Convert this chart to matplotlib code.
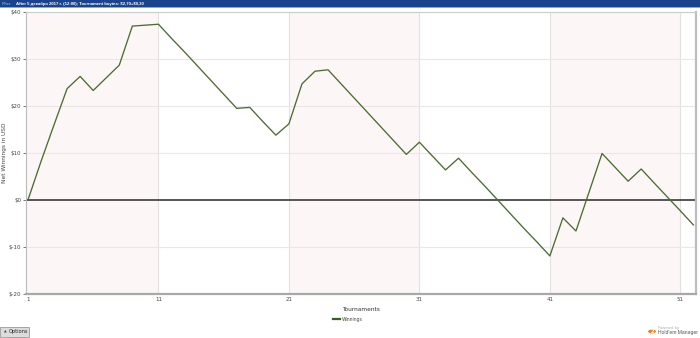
import matplotlib
matplotlib.use("Agg")
import matplotlib.pyplot as plt
from matplotlib.patches import Rectangle, Circle
from matplotlib.lines import Line2D

tournaments = list(range(1, 53))
winnings = [0.0, 8.2, 16.0, 23.7, 26.3, 23.3, 26.0, 28.7, 37.0, 37.2,
            37.4, 34.4, 31.5, 28.5, 25.5, 22.5, 19.5, 19.7, 16.7, 13.8,
            16.2, 24.7, 27.4, 27.7, 24.7, 21.7, 18.7, 15.7, 12.7, 9.7,
            12.3, 9.35, 6.4, 8.9, 5.9, 3.0, 0.0, -3.0, -6.0, -8.9,
            -11.9, -3.8, -6.6, 1.65, 9.9, 6.95, 4.0, 6.6, 3.6, 0.65,
            -2.3, -5.3]
x_ticks = [1, 11, 21, 31, 41, 51]
y_ticks = [-20, -10, 0, 10, 20, 30, 40]
y_tick_labels = ["$-20", "$-10", "$0", "$10", "$20", "$30", "$40"]
band_starts = [1, 21, 41]
header_text = "After 5 декабря 2017 г. (12:00); Tournament buyins: \\$2,70+\\$0,30"

W, H = 700, 338
fig = plt.figure(figsize=(W / 100, H / 100), dpi=100)
fig.patch.set_facecolor("white")

def fy(py):
    return 1 - py / H

# header bar
fig.patches.append(Rectangle((0, fy(7)), 1, 7 / H, transform=fig.transFigure,
                             facecolor="#1b428c", edgecolor="none"))
fig.patches.append(Rectangle((0, fy(8)), 1, 1 / H, transform=fig.transFigure,
                             facecolor="#8fa6d2", edgecolor="none"))
fig.text(2 / W, fy(3.6), "Filter:", color="#a9b8d8", fontsize=3.1,
         va="center", ha="left", family="Liberation Sans")
fig.text(16 / W, fy(3.6), header_text, color="white", fontsize=3.1,
         va="center", ha="left", fontweight="bold", family="Liberation Sans")

left, right, top, bottom = 26, 696, 12, 294
ax = fig.add_axes([left / W, (H - bottom) / H, (right - left) / W, (bottom - top) / H])
ax.set_facecolor("white")
xmin, xmax = 0.85, 52.2
ax.set_xlim(xmin, xmax)
ax.set_ylim(-20, 40)

# shaded bands
for s in band_starts:
    x0 = xmin if s == 1 else s
    ax.axvspan(x0, s + 10, color="#fcf7f6", zorder=0, lw=0)

for xt in x_ticks[1:]:
    ax.axvline(xt, color="#e6e1e1", lw=0.8, zorder=1)
for yt in y_ticks:
    if yt != 0:
        ax.axhline(yt, color="#ebe7e7", lw=0.8, zorder=1)
ax.axhline(0, color="#555555", lw=1.4, zorder=2)

ax.plot(tournaments, winnings, color="#4d6b32", lw=0.95, zorder=3)

ax.set_xticks(x_ticks)
ax.set_xticklabels([str(v) for v in x_ticks])
ax.set_yticks(y_ticks)
ax.set_yticklabels(y_tick_labels)
ax.tick_params(axis="both", labelsize=4.0, colors="#444444", length=2, width=0.5,
               pad=1.5)
ax.tick_params(axis="x", length=0, pad=2.5)
ax.spines["top"].set_color("#cccccc")
ax.spines["top"].set_linewidth(0.8)
ax.spines["right"].set_linewidth(1.6)
ax.spines["right"].set_color("#bdbdbd")
ax.spines["left"].set_color("#bbbbbb")
ax.spines["left"].set_linewidth(0.8)
ax.spines["bottom"].set_color("#a8a8a8")
ax.spines["bottom"].set_linewidth(1.6)

ax.set_ylabel("Net Winnings in USD", fontsize=4.2, color="#444444")
ax.yaxis.set_label_coords(-19 / (right - left), 0.5)
ax.set_xlabel("Tournaments", fontsize=4.2, color="#333333")
ax.xaxis.set_label_coords(0.5, -(307 - bottom) / (bottom - top))

# legend
fig.lines.append(Line2D([333 / W, 339.5 / W], [fy(319.3), fy(319.3)],
                        transform=fig.transFigure, color="#3d5c22", lw=1.6))
fig.text(342 / W, fy(319.5), "Winnings", fontsize=3.3, color="#444444",
         va="center", ha="left")

# options button
fig.patches.append(Rectangle((0, fy(337)), 29 / W, 10 / H, transform=fig.transFigure,
                             facecolor="#dcdcdc", edgecolor="#9a9a9a", lw=0.6))
fig.text(3.5 / W, fy(332), "▲", fontsize=2.5, color="#333333", va="center")
fig.text(9 / W, fy(332), "Options", fontsize=3.6, color="#222222", va="center")

# powered by logo
fig.patches.append(Circle((652 / W, fy(331.5)), 4.0 / W, transform=fig.transFigure,
                          facecolor="#f07d2b", edgecolor="none"))
fig.text(652 / W, fy(331.5), "2", fontsize=3.8, color="white", ha="center",
         va="center", fontweight="bold")
fig.text(658.5 / W, fy(327.8), "Powered by", fontsize=2.6, color="#aaaaaa",
         va="center")
fig.text(658.5 / W, fy(332.5), "Hold'em Manager", fontsize=3.6, color="#555555",
         va="center", family="Liberation Sans")

fig.savefig("out.png", dpi=100)
